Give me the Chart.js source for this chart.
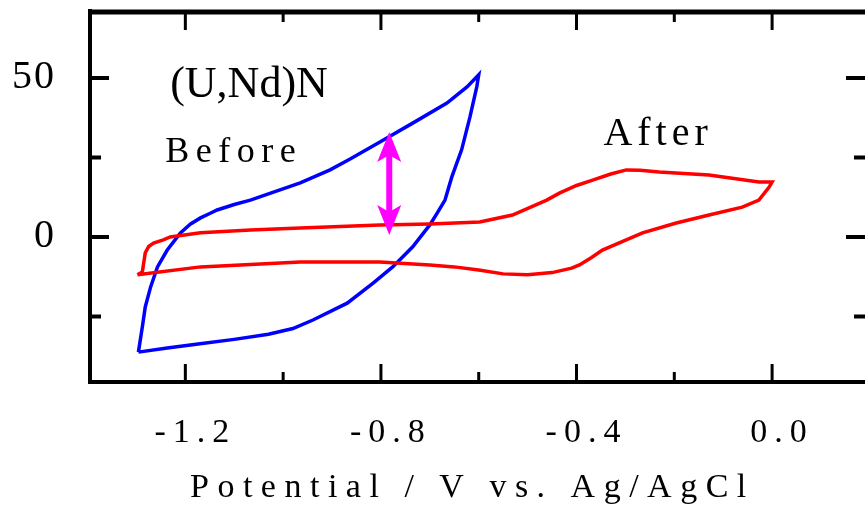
<!DOCTYPE html>
<html>
<head>
<meta charset="utf-8">
<script src="https://cdn.jsdelivr.net/npm/chart.js@4.4.0/dist/chart.umd.min.js"></script>
<style>
  html, body { margin: 0; padding: 0; background: #fff; }
  #wrap { width: 865px; height: 510px; }
</style>
</head>
<body>
<div id="wrap"><canvas id="cv" width="865" height="510"></canvas></div>
<script>
// Cyclic voltammograms, potential (V vs. Ag/AgCl) / current
const beforeV = [-1.296, -1.288, -1.282, -1.271, -1.257, -1.237, -1.210, -1.190, -1.169, -1.150,
  -1.135, -1.100, -1.067, -0.965, -0.904, -0.863, -0.802, -0.735, -0.665, -0.624, -0.600,
  -0.604, -0.618, -0.635, -0.655, -0.669, -0.685, -0.700, -0.735, -0.776, -0.816, -0.869,
  -0.939, -0.980, -1.030, -1.100, -1.170, -1.237, -1.296];
const beforeI = [-36.2, -28.3, -22.0, -15.7, -9.4, -4.1, 1.3, 4.0, 6.0, 7.4,
  8.5, 10.2, 11.6, 17.0, 21.1, 24.5, 29.9, 35.8, 42.1, 47.2, 51.0,
  47.2, 37.7, 27.4, 18.9, 11.6, 7.5, 3.8, -3.1, -9.4, -14.5, -20.8,
  -26.1, -28.8, -30.6, -32.2, -33.6, -34.9, -36.2];

const afterV = [-1.298, -1.288, -1.282, -1.275, -1.265, -1.245, -1.231, -1.169, -1.067, -0.965,
  -0.802, -0.700, -0.598, -0.531, -0.461, -0.435, -0.400, -0.367, -0.330, -0.298, -0.270,
  -0.231, -0.129, -0.027, 0.0,
  -0.006, -0.027, -0.061, -0.129, -0.196, -0.265, -0.347, -0.370, -0.394, -0.410, -0.450,
  -0.500, -0.550, -0.600, -0.650, -0.700, -0.802, -0.965, -1.169, -1.298];
const afterI = [-11.9, -11.0, -5.0, -3.0, -1.9, -0.9, 0.0, 1.3, 2.2, 2.8,
  3.8, 4.1, 4.7, 6.9, 11.6, 13.8, 16.2, 17.9, 19.8, 21.1, 21.0,
  20.4, 19.5, 17.3, 17.3,
  15.7, 11.6, 9.4, 6.9, 4.4, 1.3, -4.1, -6.5, -8.8, -9.8, -11.2,
  -11.9, -11.6, -10.4, -9.4, -8.8, -7.9, -7.9, -9.4, -11.9];

// tick positions and labels
const xMajorTicks = [-1.2, -0.8, -0.4, 0.0];
const xTickLabels = ['-1.2', '-0.8', '-0.4', '0.0'];
const xMinorTicks = [-1.0, -0.6, -0.2];
const yMajorTicks = [0, 50];
const yTickLabels = ['0', '50'];
const yMinorTicks = [-25, 25];

// double arrow between the two curves
const arrowV = [-0.783, -0.783];
const arrowI = [0.6, 33];

const noteTexts = ['(U,Nd)N', 'Before', 'After'];
const xTitle = 'Potential / V vs. Ag/AgCl';

const serif = "'Liberation Serif', 'Times New Roman', serif";

function toPoints(xs, ys) {
  return xs.map((v, i) => ({ x: v, y: ys[i] }));
}

function drawSpaced(ctx, text, x, y, size, spacing) {
  ctx.font = size + 'px ' + serif;
  ctx.letterSpacing = spacing + 'px';
  ctx.textAlign = 'left';
  ctx.textBaseline = 'alphabetic';
  ctx.fillText(text, x, y);
}

// x tick labels get wider spacing than the y ones (y ticks sit on a later layer)
const framePlugin = {
  id: 'frame',
  beforeDraw(chart) {
    chart.ctx.letterSpacing = '7px';
  },
  afterDatasetsDraw(chart) {
    chart.ctx.letterSpacing = '2px';
  },
  afterDraw(chart) {
    const { ctx, chartArea: a, scales: { x, y } } = chart;
    ctx.save();
    ctx.letterSpacing = '0px';
    ctx.strokeStyle = '#000';
    ctx.lineCap = 'butt';

    // box
    ctx.lineWidth = 4;
    ctx.beginPath();
    ctx.moveTo(a.left, a.top - 3);
    ctx.lineTo(a.left, a.bottom + 2);
    ctx.stroke();
    ctx.lineWidth = 5;
    ctx.beginPath();
    ctx.moveTo(a.left - 2, a.top);
    ctx.lineTo(a.right, a.top);
    ctx.stroke();
    ctx.lineWidth = 4;
    ctx.beginPath();
    ctx.moveTo(a.left - 2, a.bottom);
    ctx.lineTo(a.right, a.bottom);
    ctx.stroke();

    // inward ticks, bottom and top
    ctx.lineWidth = 3;
    const tickX = (vals, len) => {
      vals.forEach(v => {
        const px = x.getPixelForValue(v);
        ctx.beginPath();
        ctx.moveTo(px, a.bottom);
        ctx.lineTo(px, a.bottom - len);
        ctx.moveTo(px, a.top);
        ctx.lineTo(px, a.top + len);
        ctx.stroke();
      });
    };
    tickX(xMajorTicks, 18);
    tickX(xMinorTicks, 10);

    // inward ticks, left and right
    ctx.lineWidth = 4;
    const tickY = (vals, len) => {
      vals.forEach(v => {
        const py = y.getPixelForValue(v);
        ctx.beginPath();
        ctx.moveTo(a.left, py);
        ctx.lineTo(a.left + len, py);
        ctx.moveTo(a.right, py);
        ctx.lineTo(a.right - len, py);
        ctx.stroke();
      });
    };
    tickY(yMajorTicks, 19);
    tickY(yMinorTicks, 11);

    // magenta double arrow
    const ax = x.getPixelForValue(arrowV[0]);
    const yBot = y.getPixelForValue(arrowI[0]);
    const yTop = y.getPixelForValue(arrowI[1]);
    ctx.strokeStyle = '#ff00ff';
    ctx.fillStyle = '#ff00ff';
    ctx.lineWidth = 6;
    ctx.beginPath();
    ctx.moveTo(ax, yTop + 20);
    ctx.lineTo(ax, yBot - 20);
    ctx.stroke();
    ctx.beginPath();
    ctx.moveTo(ax, yTop);
    ctx.lineTo(ax - 12, yTop + 30);
    ctx.lineTo(ax, yTop + 23);
    ctx.lineTo(ax + 12, yTop + 30);
    ctx.closePath();
    ctx.fill();
    ctx.beginPath();
    ctx.moveTo(ax, yBot);
    ctx.lineTo(ax - 12, yBot - 30);
    ctx.lineTo(ax, yBot - 23);
    ctx.lineTo(ax + 12, yBot - 30);
    ctx.closePath();
    ctx.fill();

    // labels inside the plot
    ctx.fillStyle = '#000';
    drawSpaced(ctx, noteTexts[0], x.getPixelForValue(-1.231), y.getPixelForValue(44), 44, 0);
    drawSpaced(ctx, noteTexts[1], x.getPixelForValue(-1.241), y.getPixelForValue(23.6), 36, 6.5);
    drawSpaced(ctx, noteTexts[2], x.getPixelForValue(-0.345), y.getPixelForValue(28.9), 40, 5);

    // x axis title
    drawSpaced(ctx, xTitle, a.left + 100, a.bottom + 115, 34, 8.5);
    ctx.restore();
  }
};

new Chart(document.getElementById('cv'), {
  type: 'scatter',
  data: {
    datasets: [
      {
        label: 'After',
        data: toPoints(afterV, afterI),
        showLine: true,
        borderColor: '#ff0000',
        borderWidth: 3.5,
        pointRadius: 0,
        tension: 0
      },
      {
        label: 'Before',
        data: toPoints(beforeV, beforeI),
        showLine: true,
        borderColor: '#0000ff',
        borderWidth: 3.5,
        pointRadius: 0,
        tension: 0
      }
    ]
  },
  options: {
    responsive: false,
    animation: false,
    events: [],
    layout: { padding: { top: 12, right: 0, bottom: 0, left: 0 } },
    plugins: { legend: { display: false }, tooltip: { enabled: false } },
    scales: {
      x: {
        type: 'linear',
        min: -1.395,
        max: 0.19,
        grid: { display: false },
        border: { display: false },
        afterBuildTicks: s => { s.ticks = xMajorTicks.map(v => ({ value: v })); },
        afterFit: s => {
          s.height = 128;
          s.paddingLeft = 0;
          s.paddingRight = 0;
        },
        ticks: {
          callback: (v, i) => xTickLabels[i],
          font: { family: serif, size: 34 },
          color: '#000',
          padding: 23,
          labelOffset: 10,
          maxRotation: 0,
          autoSkip: false
        }
      },
      y: {
        type: 'linear',
        min: -45.6,
        max: 70.75,
        grid: { display: false },
        border: { display: false },
        afterBuildTicks: s => { s.ticks = yMajorTicks.map(v => ({ value: v })); },
        afterFit: s => {
          s.width = 90;
          s.paddingTop = 0;
          s.paddingBottom = 0;
        },
        ticks: {
          z: 1,
          callback: (v, i) => yTickLabels[i],
          font: { family: serif, size: 40 },
          color: '#000',
          padding: 26,
          autoSkip: false
        }
      }
    }
  },
  plugins: [framePlugin]
});
</script>
</body>
</html>
